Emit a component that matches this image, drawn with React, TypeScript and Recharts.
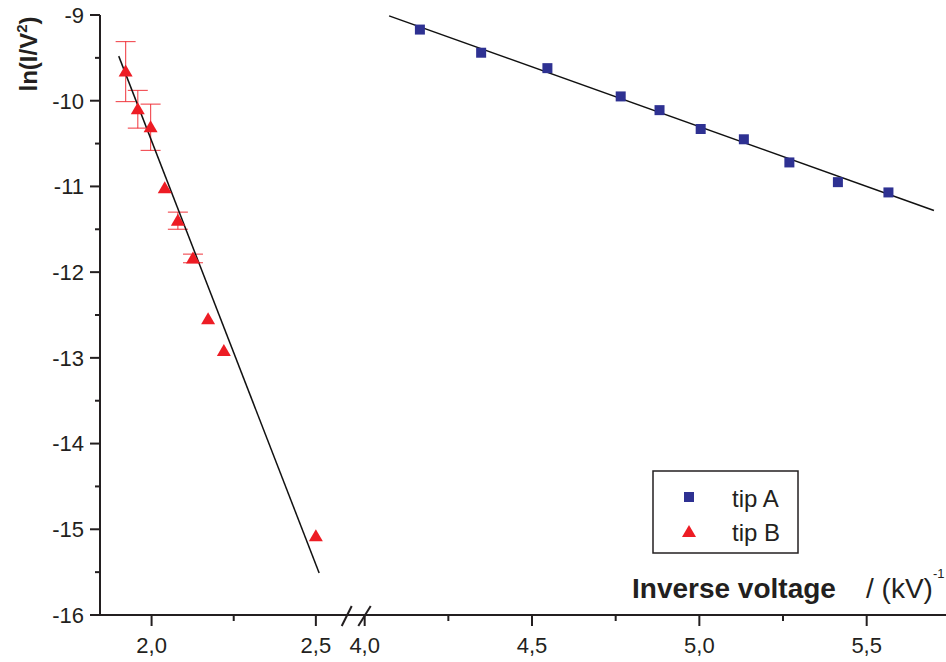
import React from 'react';
import { ScatterChart, Scatter, XAxis, YAxis, ErrorBar, Legend } from 'recharts';

// tip A (blue squares), right part of the broken axis
const tipAX = [4.165, 4.348, 4.546, 4.765, 4.881, 5.004, 5.133, 5.269, 5.414, 5.565];
const tipAY = [-9.17, -9.44, -9.62, -9.95, -10.11, -10.33, -10.45, -10.72, -10.95, -11.07];

// tip B (red triangles), left part, with error bars
const tipBX = [1.921, 1.958, 1.997, 2.04, 2.08, 2.126, 2.172, 2.22, 2.5];
const tipBY = [-9.66, -10.1, -10.31, -11.02, -11.4, -11.84, -12.55, -12.92, -15.08];
const tipBErr = [0.35, 0.22, 0.27, 0, 0.1, 0.05, 0, 0, 0];

// linear fits (end points)
const fitAX = [4.073, 5.701];
const fitAY = [-9.01, -11.28];
const fitBX = [1.9, 2.51];
const fitBY = [-9.48, -15.51];

const yTicks = [-16, -15.5, -15, -14.5, -14, -13.5, -13, -12.5, -12, -11.5, -11, -10.5, -10, -9.5, -9];
const leftTicks = [2.0, 2.25, 2.5];
const rightTicks = [4.0, 4.25, 4.5, 4.75, 5.0, 5.25, 5.5];
const leftDomain = [1.843, 2.61];
const rightDomain = [3.8665, 5.737];
const yDomain = [-16, -9];

const seriesNames = ['tip A', 'tip B'];

const AXIS = '#231f20';
const BLUE = '#2e3192';
const RED = '#ed1c24';
const FONT = 'Arial, "Liberation Sans", Helvetica, sans-serif';

const tipA = tipAX.map((x, i) => ({ x, y: tipAY[i] }));
const tipB = tipBX.map((x, i) => ({ x, y: tipBY[i], err: tipBErr[i] }));
const fitA = fitAX.map((x, i) => ({ x, y: fitAY[i] }));
const fitB = fitBX.map((x, i) => ({ x, y: fitBY[i] }));

const Square = ({ cx, cy }: any) => <rect x={cx - 5} y={cy - 5} width={10} height={10} fill={BLUE} />;
const Triangle = ({ cx, cy }: any) => (
  <path d={`M${cx},${cy - 7} L${cx + 7},${cy + 5} L${cx - 7},${cy + 5} Z`} fill={RED} />
);
const NoDot = () => <g />;

const isMajor = (v: number) => Math.abs(v * 2 - Math.round(v * 2)) < 1e-6;

const XTick = ({ x, y, payload }: any) => {
  const v = payload.value;
  const major = isMajor(v);
  return (
    <g>
      <line x1={x} y1={y} x2={x} y2={y + (major ? 11 : 6)} stroke={AXIS} strokeWidth={2} />
      {major && (
        <text x={x} y={y + 38} textAnchor="middle" fontSize={22} fill={AXIS} fontFamily={FONT}>
          {v.toFixed(1).replace('.', ',')}
        </text>
      )}
    </g>
  );
};

const YTick = ({ x, y, payload }: any) => {
  const v = payload.value;
  const major = Number.isInteger(v);
  return (
    <g>
      <line x1={x - (major ? 10 : 5)} y1={y} x2={x} y2={y} stroke={AXIS} strokeWidth={2} />
      {major && (
        <text x={x - 16} y={y} dy="0.36em" textAnchor="end" fontSize={22} fill={AXIS} fontFamily={FONT}>
          {v}
        </text>
      )}
    </g>
  );
};

const YLabel = () => (
  <text
    transform="translate(37,54) rotate(-90)"
    textAnchor="middle"
    fontSize={24}
    fontWeight="bold"
    fill={AXIS}
    fontFamily={FONT}
  >
    ln(I/V<tspan fontSize={15} dy={-10}>2</tspan>
    <tspan dy={10}>)</tspan>
  </text>
);

// right chart starts at page x = 320
const XLabel = () => (
  <text y={598} fontSize={28} fill={AXIS} fontFamily={FONT}>
    <tspan x={312} fontWeight="bold">Inverse voltage</tspan>
    <tspan x={546}>/ (kV)</tspan>
    <tspan x={613} fontSize={13} dy={-20}>-1</tspan>
  </text>
);

const LegendBox = () => (
  <svg width={148} height={85} style={{ display: 'block' }}>
    <rect x={1} y={1} width={145} height={82} fill="#fff" stroke={AXIS} strokeWidth={1.5} />
    <rect x={32} y={22} width={10} height={10} fill={BLUE} />
    <text x={80} y={28} dy="0.36em" fontSize={24} fill={AXIS} fontFamily={FONT}>{seriesNames[0]}</text>
    <path d="M37,55 L44,67 L30,67 Z" fill={RED} />
    <text x={80} y={62} dy="0.36em" fontSize={24} fill={AXIS} fontFamily={FONT}>{seriesNames[1]}</text>
  </svg>
);

export default function App() {
  return (
    <div style={{ position: 'absolute', left: 0, top: 0, width: 946, height: 662, background: '#fff' }}>
      <div style={{ position: 'absolute', left: 0, top: 0 }}>
        <ScatterChart width={352} height={662} margin={{ top: 15, right: 0, bottom: 0, left: 0 }}>
          <XAxis
            type="number"
            dataKey="x"
            domain={leftDomain}
            ticks={leftTicks}
            allowDataOverflow
            height={47}
            tickSize={0}
            tickMargin={0}
            tick={<XTick />}
            axisLine={{ stroke: AXIS, strokeWidth: 2 }}
          />
          <YAxis
            type="number"
            dataKey="y"
            domain={yDomain}
            ticks={yTicks}
            allowDataOverflow
            width={100}
            tickSize={0}
            tickMargin={0}
            tick={<YTick />}
            axisLine={{ stroke: AXIS, strokeWidth: 2 }}
            label={{ content: <YLabel /> }}
          />
          <Scatter
            data={fitB}
            shape={<NoDot />}
            line={{ stroke: '#111', strokeWidth: 1.5 }}
            legendType="none"
            isAnimationActive={false}
          />
          <Scatter name={seriesNames[1]} data={tipB} shape={<Triangle />} isAnimationActive={false}>
            <ErrorBar dataKey="err" direction="y" width={10} stroke={RED} strokeOpacity={0.75} strokeWidth={1.2} />
          </Scatter>
        </ScatterChart>
      </div>
      <div style={{ position: 'absolute', left: 320, top: 0 }}>
        <ScatterChart width={626} height={662} margin={{ top: 15, right: 0, bottom: 0, left: 0 }}>
          <XAxis
            type="number"
            dataKey="x"
            domain={rightDomain}
            ticks={rightTicks}
            allowDataOverflow
            height={47}
            tickSize={0}
            tickMargin={0}
            tick={<XTick />}
            axisLine={{ stroke: AXIS, strokeWidth: 2 }}
            label={{ content: <XLabel /> }}
          />
          <YAxis type="number" dataKey="y" domain={yDomain} allowDataOverflow hide />
          <Scatter
            data={fitA}
            shape={<NoDot />}
            line={{ stroke: '#111', strokeWidth: 1.5 }}
            legendType="none"
            isAnimationActive={false}
          />
          <Scatter name={seriesNames[0]} data={tipA} shape={<Square />} isAnimationActive={false} />
          <Legend
            layout="vertical"
            align="center"
            verticalAlign="middle"
            wrapperStyle={{ left: 332, top: 470, width: 148, height: 85 }}
            content={<LegendBox />}
          />
        </ScatterChart>
      </div>
      <svg width={946} height={662} style={{ position: 'absolute', left: 0, top: 0, pointerEvents: 'none' }}>
        <line x1={341.7} y1={626} x2={351.7} y2={606} stroke={AXIS} strokeWidth={2} />
        <line x1={358.3} y1={626} x2={370.7} y2={606} stroke={AXIS} strokeWidth={2} />
      </svg>
    </div>
  );
}
